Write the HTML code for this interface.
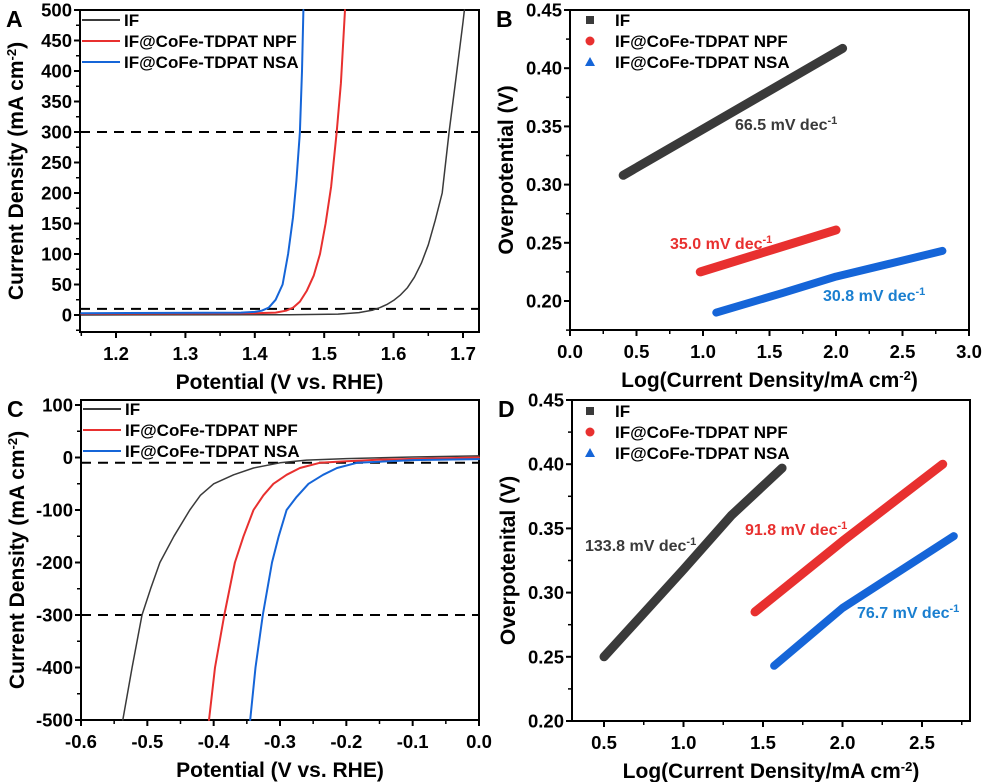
<!DOCTYPE html>
<html><head><meta charset="utf-8"><style>
html,body{margin:0;padding:0;background:#fff;}
svg{display:block;font-family:"Liberation Sans",Arial,sans-serif;font-weight:bold;}
</style></head><body>
<svg id="fig" width="985" height="782" viewBox="0 0 985 782" xmlns="http://www.w3.org/2000/svg"></svg>
<script>
// ===== Panel A data (OER LSV) =====
const aIFx=[1.15,1.45,1.52,1.55,1.57,1.58,1.59,1.60,1.61,1.62,1.63,1.64,1.65,1.66,1.67,1.68,1.69,1.70,1.702];
const aIFy=[0,0.5,1.5,4,8,12,17,24,33,45,62,85,115,155,200,300,390,480,500];
const aNPFx=[1.15,1.40,1.43,1.445,1.455,1.465,1.475,1.485,1.494,1.502,1.51,1.518,1.524,1.53];
const aNPFy=[2,3,4,7,12,22,40,65,100,150,210,300,380,500];
const aNSAx=[1.15,1.38,1.40,1.41,1.42,1.43,1.44,1.448,1.455,1.46,1.465,1.468,1.47];
const aNSAy=[3,4,5,7,12,25,50,100,160,220,300,400,500];
const aDash=[10,300];
const aXTicks=[1.2,1.3,1.4,1.5,1.6,1.7];
const aYTicks=[0,50,100,150,200,250,300,350,400,450,500];
// ===== Panel B data (OER Tafel) =====
const bIFx=[0.4,2.05]; const bIFy=[0.308,0.417];
const bNPFx=[0.98,2.0]; const bNPFy=[0.225,0.261];
const bNSAx=[1.1,1.6,2.0,2.4,2.8]; const bNSAy=[0.19,0.207,0.221,0.232,0.243];
const bXTicks=[0.0,0.5,1.0,1.5,2.0,2.5,3.0];
const bYTicks=[0.20,0.25,0.30,0.35,0.40,0.45];
// ===== Panel C data (HER LSV) =====
const cIFx=[0,-0.1,-0.2,-0.26,-0.30,-0.34,-0.37,-0.40,-0.42,-0.436,-0.46,-0.481,-0.495,-0.508,-0.523,-0.537];
const cIFy=[3,1,-2,-5,-10,-20,-33,-50,-72,-100,-150,-200,-250,-300,-400,-500];
const cNPFx=[0,-0.15,-0.2,-0.24,-0.27,-0.29,-0.31,-0.325,-0.34,-0.355,-0.368,-0.384,-0.398,-0.407];
const cNPFy=[0,-4,-7,-10,-20,-33,-50,-72,-100,-150,-200,-300,-400,-500];
const cNSAx=[0,-0.1,-0.184,-0.214,-0.235,-0.257,-0.275,-0.29,-0.302,-0.312,-0.326,-0.337,-0.345];
const cNSAy=[-3,-5,-10,-20,-33,-50,-75,-100,-150,-200,-300,-400,-500];
const cDash=[-10,-300];
const cXTicks=[-0.6,-0.5,-0.4,-0.3,-0.2,-0.1,0.0];
const cYTicks=[100,0,-100,-200,-300,-400,-500];
// ===== Panel D data (HER Tafel) =====
const dIFx=[0.5,1.0,1.3,1.62]; const dIFy=[0.25,0.318,0.36,0.397];
const dNPFx=[1.45,2.0,2.63]; const dNPFy=[0.285,0.34,0.40];
const dNSAx=[1.57,2.0,2.7]; const dNSAy=[0.243,0.288,0.344];
const dXTicks=[0.5,1.0,1.5,2.0,2.5];
const dYTicks=[0.20,0.25,0.30,0.35,0.40,0.45];

const NS="http://www.w3.org/2000/svg";
const svg=document.getElementById('fig');
function el(tag,attrs,parent,txt){const e=document.createElementNS(NS,tag);for(const k in attrs)e.setAttribute(k,attrs[k]);if(txt!==undefined)e.textContent=txt;(parent||svg).appendChild(e);return e;}
function scale(d0,d1,r0,r1){return v=>r0+(v-d0)/(d1-d0)*(r1-r0);}
const BLACK='#3a3a3a',RED='#e8302f',BLUE='#1565d8';

function panel(name,box,sx,sy,xt,yt,xfmt,yfmt,xminor,yminor,xTitle,yTitle,letter){
  const g=el('g',{});
  
  
  const r=el('rect',{x:box[0],y:box[1],width:box[2]-box[0],height:box[3]-box[1],fill:'none',stroke:'#000','stroke-width':2},g);
  
  xt.forEach(v=>{const x=sx(v);el('line',{x1:x,x2:x,y1:box[3],y2:box[3]+6,stroke:'#000','stroke-width':2},g);
    const t=el('text',{x:x,y:box[3]+28,'text-anchor':'middle','font-size':18.5},g,xfmt(v));
    });
  xminor.forEach(v=>{const x=sx(v);el('line',{x1:x,x2:x,y1:box[3],y2:box[3]+4,stroke:'#000','stroke-width':1.5},g);});
  yt.forEach(v=>{const y=sy(v);el('line',{x1:box[0]-6,x2:box[0],y1:y,y2:y,stroke:'#000','stroke-width':2},g);
    const t=el('text',{x:box[0]-8,y:y+6.5,'text-anchor':'end','font-size':18.5},g,yfmt(v));
    });
  yminor.forEach(v=>{const y=sy(v);el('line',{x1:box[0]-4,x2:box[0],y1:y,y2:y,stroke:'#000','stroke-width':1.5},g);});
  const xt2=el('text',{x:(box[0]+box[2])/2,y:box[3]+57,'text-anchor':'middle','font-size':21},g);
  xt2.innerHTML=xTitle;
  const cy=(box[1]+box[3])/2;
  const yt2=el('text',{x:0,y:0,'text-anchor':'middle','font-size':21,transform:`translate(${box[0]-57},${cy}) rotate(-90)`},g);
  yt2.innerHTML=yTitle;
  const L=el('text',{x:box[0]-74,y:box[1]+17,'font-size':23},g,letter);
  
  return g;
}
function curve(g,xs,ys,sx,sy,color,w,name){
  const p=el('polyline',{points:xs.map((x,i)=>sx(x).toFixed(1)+','+sy(ys[i]).toFixed(1)).join(' '),fill:'none',stroke:color,'stroke-width':w,'stroke-linejoin':'round','stroke-linecap':'round'},g);
  
}
function dash(g,v,sx0,sx1,sy,name){const l=el('line',{x1:sx0,x2:sx1,y1:sy(v),y2:sy(v),stroke:'#000','stroke-width':2,'stroke-dasharray':'10,7'},g);
  }
function legendLines(g,x,y){
  [[BLACK,'IF'],[RED,'IF@CoFe-TDPAT NPF'],[BLUE,'IF@CoFe-TDPAT NSA']].forEach((d,i)=>{
    const gg=el('g',{},g);
    el('line',{x1:x,x2:x+38,y1:y+i*21,y2:y+i*21,stroke:d[0],'stroke-width':2},gg);
    el('text',{x:x+42,y:y+i*21+6,'font-size':17},gg,d[1]);});
}
function legendMarks(g,x,y){
  [[BLACK,'IF','s'],[RED,'IF@CoFe-TDPAT NPF','c'],[BLUE,'IF@CoFe-TDPAT NSA','t']].forEach((d,i)=>{
    const gg=el('g',{},g);
    const yy=y+i*21;
    if(d[2]==='s')el('rect',{x:x-4,y:yy-4,width:8,height:8,fill:d[0]},gg);
    else if(d[2]==='c')el('circle',{cx:x,cy:yy,r:4.5,fill:d[0]},gg);
    else el('polygon',{points:`${x-5},${yy+4} ${x+5},${yy+4} ${x},${yy-5}`,fill:d[0]},gg);
    el('text',{x:x+25,y:yy+6,'font-size':17},gg,d[1]);});
}
function ann(g,x,y,txt,color){const t=el('text',{x:x,y:y,'font-size':16,fill:color},g);
  t.innerHTML=txt+' mV dec<tspan dy="-6" font-size="11">-1</tspan>';}
const fmt1=v=>v.toFixed(1),fmt2=v=>v.toFixed(2),fmt0=v=>String(v);
const range=(a,b,s)=>{const r=[];for(let v=a;v<=b+1e-9;v+=s)r.push(+v.toFixed(4));return r;};

// Panel A
{const box=[80,10,479,332];const sx=scale(1.2,1.7,116,463),sy=scale(0,500,315,10);
 const g=panel('panel-a-oer-lsv',box,sx,sy,aXTicks,aYTicks,fmt1,fmt0,range(1.15,1.7,0.05),range(-25,475,50),
  'Potential (V vs. RHE)','Current Density (mA cm<tspan dy="-7" font-size="13">-2</tspan><tspan dy="7">)</tspan>','A');
 aDash.forEach(v=>dash(g,v,box[0],box[2],sy,'reference-dashed-line'));
 curve(g,aIFx,aIFy,sx,sy,BLACK,1.5,'line-if');curve(g,aNPFx,aNPFy,sx,sy,RED,2,'line-npf');curve(g,aNSAx,aNSAy,sx,sy,BLUE,2,'line-nsa');
 legendLines(g,82,20);}
// Panel B
{const box=[570,10,969,330];const sx=scale(0,3,570,969),sy=scale(0.20,0.45,301,10);
 const g=panel('panel-b-oer-tafel',box,sx,sy,bXTicks,bYTicks,fmt1,fmt2,range(0.25,2.75,0.5),range(0.175,0.425,0.05),
  'Log(Current Density/mA cm<tspan dy="-7" font-size="13">-2</tspan><tspan dy="7">)</tspan>','Overpotential (V)','B');
 curve(g,bIFx,bIFy,sx,sy,BLACK,9,'tafel-if');curve(g,bNPFx,bNPFy,sx,sy,RED,9,'tafel-npf');curve(g,bNSAx,bNSAy,sx,sy,BLUE,8,'tafel-nsa');
 legendMarks(g,590,20);
 ann(g,735,130,'66.5',BLACK);ann(g,670,249,'35.0',RED);ann(g,823,301,'30.8','#1a7fd0');}
// Panel C
{const box=[81,400,479,720];const sx=scale(-0.6,0,81,479),sy=scale(100,-500,405,720);
 const g=panel('panel-c-her-lsv',box,sx,sy,cXTicks,cYTicks,fmt1,fmt0,range(-0.55,-0.05,0.1),range(-450,50,100),
  'Potential (V vs. RHE)','Current Density (mA cm<tspan dy="-7" font-size="13">-2</tspan><tspan dy="7">)</tspan>','C');
 cDash.forEach(v=>dash(g,v,box[0],box[2],sy,'reference-dashed-line'));
 curve(g,cIFx,cIFy,sx,sy,BLACK,1.5,'line-if');curve(g,cNPFx,cNPFy,sx,sy,RED,2,'line-npf');curve(g,cNSAx,cNSAy,sx,sy,BLUE,2,'line-nsa');
 legendLines(g,83,409);}
// Panel D
{const box=[572,400,970,721];const sx=scale(0.5,2.5,604,922),sy=scale(0.20,0.45,721,400);
 const g=panel('panel-d-her-tafel',box,sx,sy,dXTicks,dYTicks,fmt1,fmt2,range(0.75,2.75,0.5),range(0.225,0.425,0.05),
  'Log(Current Density/mA cm<tspan dy="-7" font-size="13">-2</tspan><tspan dy="7">)</tspan>','Overpotenital (V)','D');
 curve(g,dIFx,dIFy,sx,sy,BLACK,9,'tafel-if');curve(g,dNPFx,dNPFy,sx,sy,RED,9,'tafel-npf');curve(g,dNSAx,dNSAy,sx,sy,BLUE,8,'tafel-nsa');
 legendMarks(g,590,411);
 ann(g,585,551,'133.8',BLACK);ann(g,745,535,'91.8',RED);ann(g,857,618,'76.7','#1a7fd0');}
</script>
</body></html>
